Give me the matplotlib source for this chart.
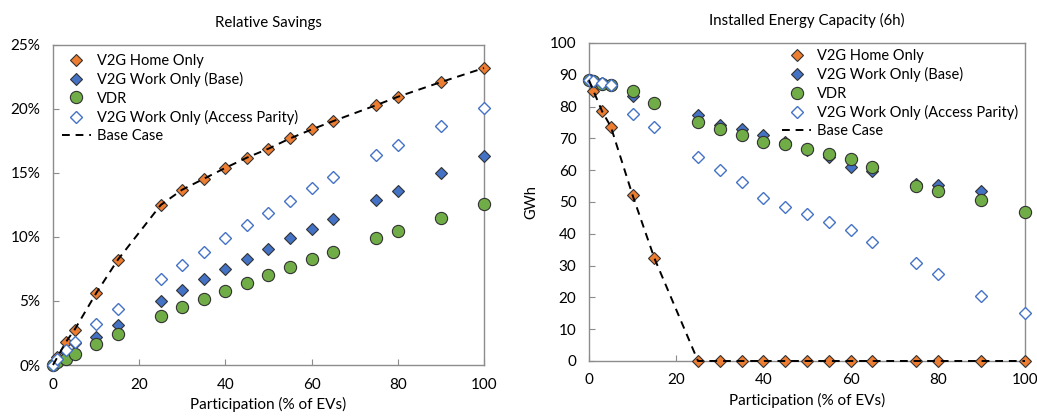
import numpy as np
import matplotlib.pyplot as plt
from matplotlib.ticker import PercentFormatter

plt.rcParams['font.family'] = ['Lato', 'DejaVu Sans']

participation = [0, 1, 3, 5, 10, 15, 25, 30, 35, 40, 45, 50, 55, 60, 65, 75, 80, 90, 100]

# relative savings (%)
sav_home = [0.0, 0.6, 1.8, 2.75, 5.6, 8.2, 12.5, 13.7, 14.55, 15.4, 16.2, 16.9, 17.7, 18.4, 19.05,
            20.3, 20.95, 22.1, 23.2]
sav_work = [0.0, 0.4, 1.0, 1.7, 2.2, 3.15, 5.0, 5.85, 6.7, 7.5, 8.3, 9.1, 9.9, 10.65, 11.4,
            12.9, 13.6, 15.0, 16.3]
sav_vdr = [0.0, 0.2, 0.45, 0.85, 1.65, 2.45, 3.85, 4.55, 5.15, 5.8, 6.4, 7.05, 7.65, 8.25, 8.85,
           9.95, 10.5, 11.5, 12.55]
sav_parity = [0.0, 0.5, 1.15, 1.8, 3.2, 4.4, 6.7, 7.8, 8.85, 9.9, 10.9, 11.9, 12.85, 13.8, 14.7,
              16.4, 17.2, 18.7, 20.1]

# installed energy capacity (GWh)
cap_home = [88.3, 85.0, 78.5, 73.7, 52.1, 32.3, 0, 0, 0, 0, 0, 0, 0, 0, 0, 0, 0, 0, 0]
cap_work = [88.3, 88.0, 87.3, 86.8, 83.4, 81.0, 77.4, 74.1, 72.9, 71.1, 68.8, 66.5, 64.0, 61.0,
            59.8, 55.7, 55.2, 53.5, 46.8]
cap_vdr = [88.3, 88.2, 87.2, 86.7, 84.8, 81.0, 75.3, 73.0, 71.1, 69.0, 68.2, 66.6, 65.2, 63.5,
           61.0, 55.0, 53.6, 50.6, 46.9]
cap_parity = [88.3, 88.2, 87.3, 86.8, 77.8, 73.6, 64.3, 60.1, 56.2, 51.4, 48.4, 46.1, 43.8, 41.3,
              37.4, 30.7, 27.5, 20.4, 15.1]

ORANGE = '#ED7D31'
BLUE = '#4472C4'
GREEN = '#70AD47'
SPINE = '#8c8c8c'


def draw_panel(ax, home, work, vdr, parity):
    ax.plot(participation, home, 'D', ms=6.5, mfc=ORANGE, mec='#333333', mew=0.8,
            label='V2G Home Only', zorder=3, clip_on=False)
    ax.plot(participation, work, 'D', ms=6.5, mfc=BLUE, mec='#333333', mew=0.8,
            label='V2G Work Only (Base)', zorder=4, clip_on=False)
    ax.plot(participation, vdr, 'o', ms=8.8, mfc=GREEN, mec='#333333', mew=0.8,
            label='VDR', zorder=5, clip_on=False)
    ax.plot(participation, parity, 'D', ms=6.5, mfc='white', mec=BLUE, mew=1.0,
            label='V2G Work Only (Access Parity)', zorder=6, clip_on=False)
    ax.plot(participation, home, '--', color='black', lw=1.4, dashes=(4, 3),
            label='Base Case', zorder=7, clip_on=False)
    ax.set_xlim(0, 100)
    ax.set_xticks(np.arange(0, 101, 20))
    for s in ax.spines.values():
        s.set_color(SPINE)
        s.set_linewidth(1.0)
    ax.tick_params(direction='in', length=4, color=SPINE, labelsize=11, pad=9)
    ax.set_xlabel('Participation (% of EVs)', fontsize=11, labelpad=4)


fig = plt.figure(figsize=(10.37, 4.17), dpi=100)
ax1 = fig.add_axes([0.0511, 0.1247, 0.4156, 0.7674])
ax2 = fig.add_axes([0.568, 0.1343, 0.4204, 0.7626])

draw_panel(ax1, [v / 100 for v in sav_home], [v / 100 for v in sav_work],
           [v / 100 for v in sav_vdr], [v / 100 for v in sav_parity])
ax1.set_ylim(0, 0.25)
ax1.set_yticks(np.arange(0, 0.251, 0.05))
ax1.yaxis.set_major_formatter(PercentFormatter(1.0, decimals=0))
ax1.set_title('Relative Savings', fontsize=10.8, pad=13)
ax1.legend(loc='upper left', frameon=False, fontsize=10.5, handlelength=2.0,
           handletextpad=0.4, labelspacing=0.3, borderaxespad=0.2,
           bbox_to_anchor=(0.0, 1.0))

draw_panel(ax2, cap_home, cap_work, cap_vdr, cap_parity)
ax2.set_ylim(0, 100)
ax2.set_yticks(np.arange(0, 101, 10))
ax2.set_ylabel('GWh', fontsize=10.5, labelpad=8)
ax2.set_title('Installed Energy Capacity (6h)', fontsize=10.8, pad=13)
ax2.legend(loc='upper left', frameon=False, fontsize=10.5, handlelength=2.0,
           handletextpad=0.4, labelspacing=0.3, borderaxespad=0.0,
           bbox_to_anchor=(0.43, 1.0))

fig.savefig('out.png', dpi=100)
